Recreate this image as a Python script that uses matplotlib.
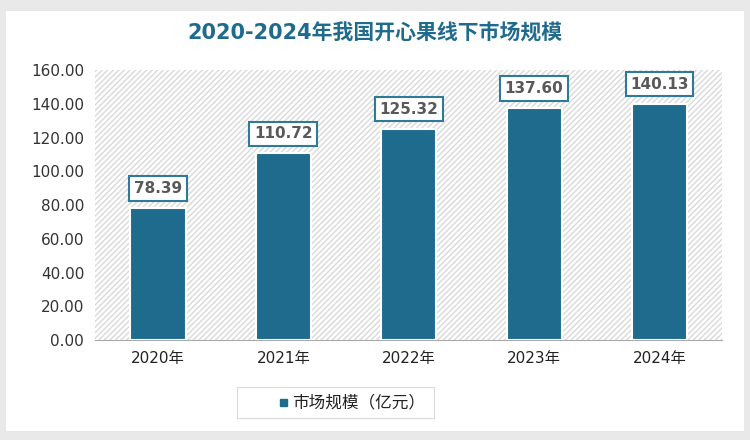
import matplotlib
matplotlib.use("Agg")
import matplotlib.pyplot as plt
from matplotlib.patches import Rectangle
from matplotlib import font_manager

categories = ["2020年", "2021年", "2022年", "2023年", "2024年"]
values = [78.39, 110.72, 125.32, 137.60, 140.13]
yticks = [0, 20, 40, 60, 80, 100, 120, 140, 160]
series_name = "市场规模（亿元）"

names = {f.name for f in font_manager.fontManager.ttflist}
cjk = [n for n in ["Noto Sans CJK SC", "Noto Sans CJK JP", "Noto Sans CJK TC", "Noto Sans CJK KR"] if n in names]
plt.rcParams["font.family"] = ["DejaVu Sans"] + cjk
plt.rcParams["hatch.color"] = "#d9d9d9"
fig = plt.figure(figsize=(7.5, 4.4), dpi=100)
fig.patch.set_facecolor("#e9e9e9")
fig.add_artist(Rectangle((0.008, 0.02), 0.984, 0.955, transform=fig.transFigure,
                         facecolor="white", edgecolor="none", zorder=0))
ax = fig.add_axes([0.127, 0.227, 0.836, 0.614])
ax.set_facecolor("white")
ax.add_patch(Rectangle((0, 0), 1, 1, transform=ax.transAxes, facecolor="white",
                       edgecolor="#d9d9d9", hatch="//////", lw=0, zorder=0))
x = range(len(categories))
ax.bar(x, values, width=0.44, color="#1f6b8e", edgecolor="white", lw=1.5, zorder=3)
for xi, v in zip(x, values):
    ax.text(xi, v + 7, f"{v:.2f}", ha="center", va="bottom", fontsize=11,
            fontweight="bold", color="#595959", zorder=4,
            bbox=dict(boxstyle="square,pad=0.3", fc="white", ec="#2f7a99", lw=1.5))
ax.set_xlim(-0.5, 4.5)
ax.set_ylim(0, 160)
ax.set_yticks(yticks)
ax.set_yticklabels([f"{t:.2f}" for t in yticks], fontsize=11, color="#333333")
ax.set_xticks(list(x))
ax.set_xticklabels(categories, fontsize=11, color="#222222")
ax.tick_params(length=0, pad=8)
for s in ["top", "right", "left"]:
    ax.spines[s].set_visible(False)
ax.spines["bottom"].set_color("#aaaaaa")
fig.text(0.5, 0.925, "2020-2024年我国开心果线下市场规模", ha="center", va="center",
         fontsize=15, fontweight="bold", color="#1f6b8e")
leg_ax = fig.add_axes([0.316, 0.05, 0.263, 0.07])
leg_ax.set_xticks([]); leg_ax.set_yticks([])
for s in leg_ax.spines.values():
    s.set_color("#d9d9d9")
leg_ax.add_patch(Rectangle((0.22, 0.4), 0.035, 0.22, transform=leg_ax.transAxes,
                           color="#1f6b8e"))
leg_ax.text(0.28, 0.5, series_name, transform=leg_ax.transAxes, va="center",
            fontsize=12, color="#222222")
fig.savefig("out.png", dpi=100)
